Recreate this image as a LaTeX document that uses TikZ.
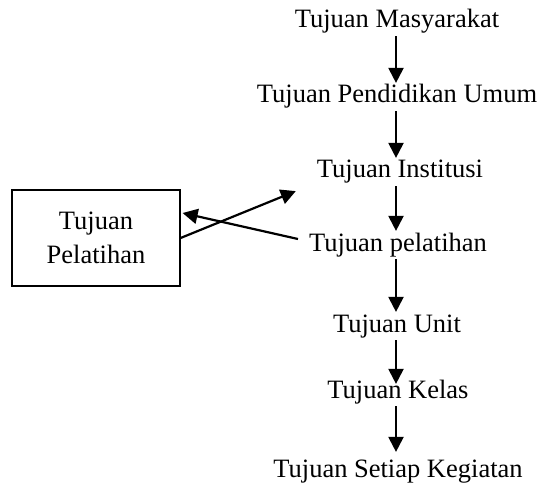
\documentclass[tikz,border=0pt]{standalone}
\usepackage{fontspec}
\setmainfont{Liberation Serif}
\usetikzlibrary{arrows.meta}
\begin{document}
\begin{tikzpicture}[x=1pt, y=-1pt, line width=2.2pt,
    font=\fontsize{26.5}{34}\selectfont,
    tujuan/.style={anchor=base, inner sep=1pt, text height=18pt, text depth=6pt},
    panah/.style={-{Triangle[width=15pt,length=15pt]}}]
    \useasboundingbox (0,0) rectangle (541,484);
    \node[tujuan] (masy) at (397,28) {Tujuan Masyarakat};
    \node[tujuan] (umum) at (397,103) {Tujuan Pendidikan Umum};
    \node[tujuan] (inst) at (400,178) {Tujuan Institusi};
    \node[tujuan] (pel) at (398,251) {Tujuan pelatihan};
    \node[tujuan] (unit) at (397,332) {Tujuan Unit};
    \node[tujuan] (kelas) at (398,398) {Tujuan Kelas};
    \node[tujuan] (giat) at (398,477) {Tujuan Setiap Kegiatan};
    \node[draw, line width=1.2pt, minimum width=168pt, minimum height=96pt,
        inner sep=0pt, align=center] (latih) at (96,238) {Tujuan\\Pelatihan};
    \draw [panah] ([xshift=-1pt]masy.south) -- ([xshift=-1pt]umum.north);
    \draw [panah] ([xshift=-1pt]umum.south) -- ([xshift=-4pt]inst.north);
    \draw [panah] ([xshift=-4pt]inst.south) -- ([xshift=-2pt]pel.north);
    \draw [panah] ([xshift=-2pt]pel.south) -- ([xshift=-1pt]unit.north);
    \draw [panah, shorten >=-6pt] ([xshift=-1pt]unit.south) -- ([xshift=-2pt]kelas.north);
    \draw [panah, shorten >=5pt] ([xshift=-2pt]kelas.south) -- ([xshift=-2pt]giat.north);
    \draw [panah] (latih.east) -- ([xshift=-19pt,yshift=-5pt]inst.south west);
    \draw [panah] ([xshift=-9pt,yshift=6pt]pel.west) -- ([xshift=2pt,yshift=25pt]latih.east);
\end{tikzpicture}
\end{document}
